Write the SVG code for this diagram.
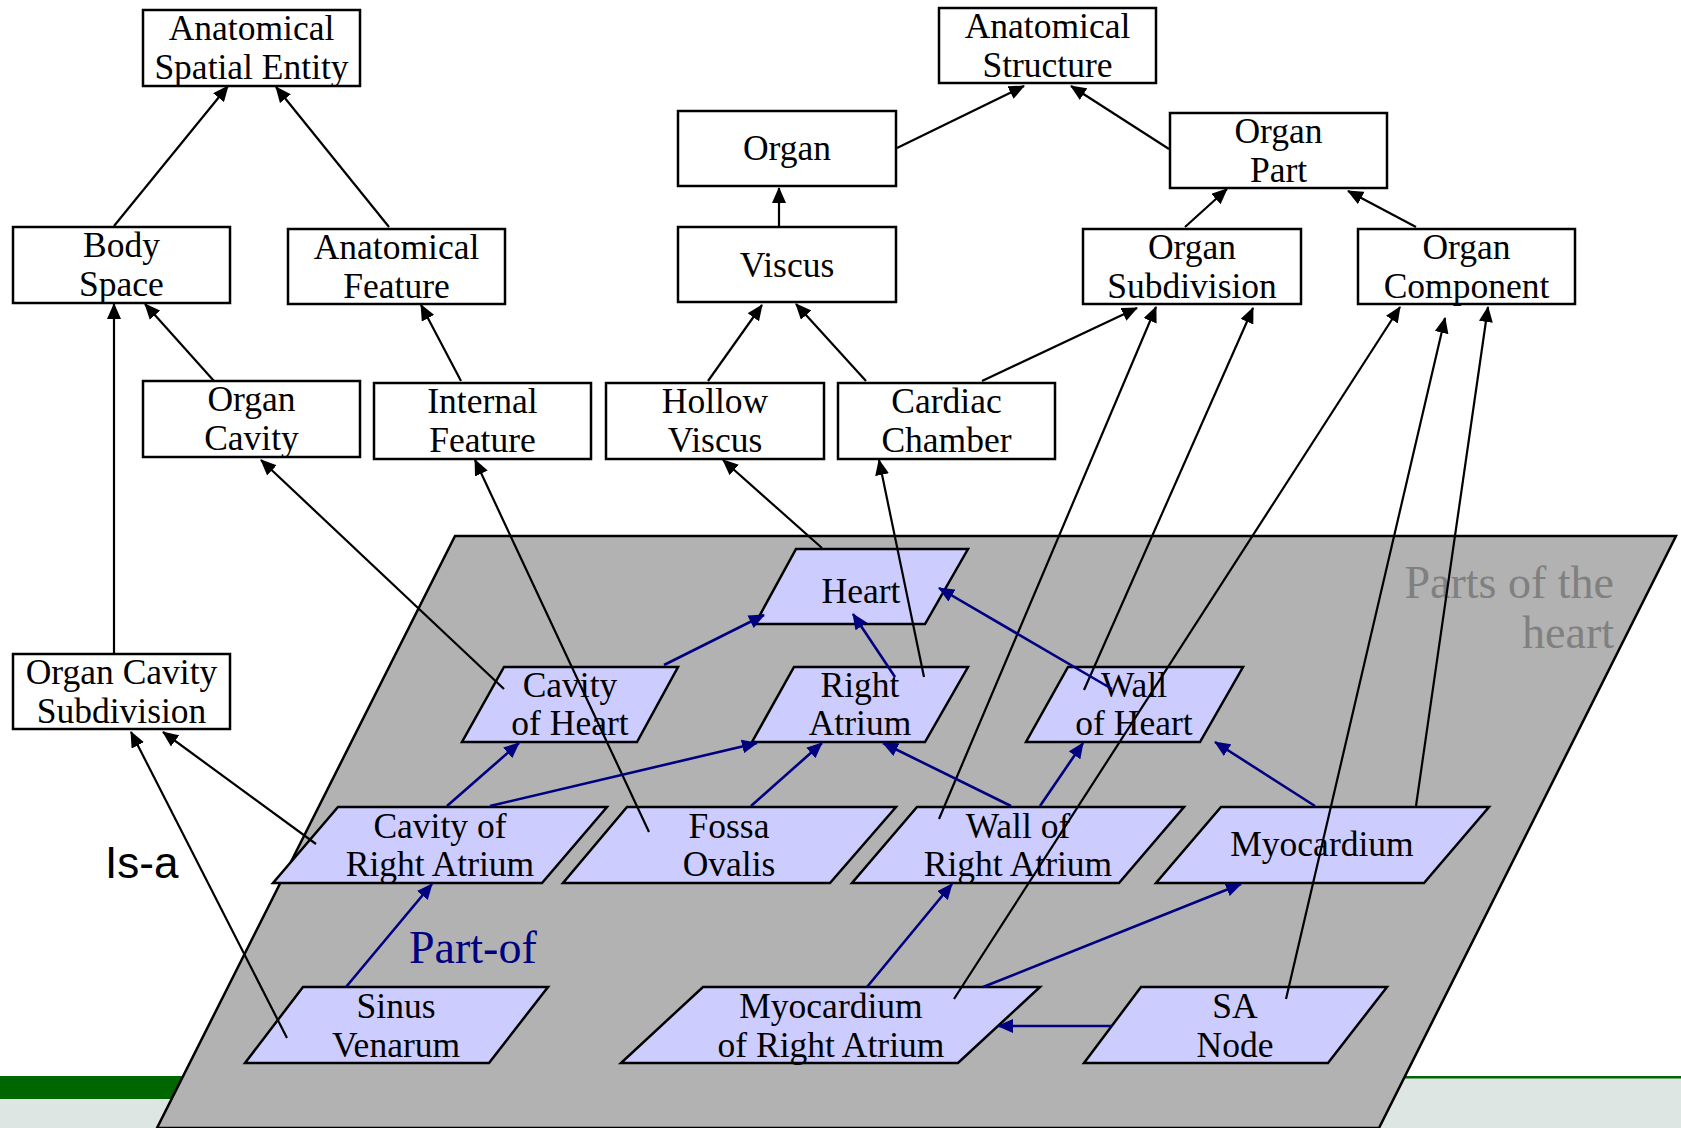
<svg xmlns="http://www.w3.org/2000/svg" width="1681" height="1128" viewBox="0 0 1681 1128">
<defs>
<style>
.box{fill:#fff;stroke:#000;stroke-width:2.5}
.par{fill:#ccccff;stroke:#000;stroke-width:2.5;stroke-linejoin:miter}
.t{font-family:"Liberation Serif","Times New Roman",serif;font-size:35.5px;text-anchor:middle;fill:#000}
.isa{stroke:#000;stroke-width:2.2;fill:none;marker-end:url(#ab)}
.pof{stroke:#000080;stroke-width:2.6;fill:none;marker-end:url(#an)}
</style>
<marker id="ab" viewBox="0 0 16 14" refX="15" refY="7" markerWidth="16" markerHeight="14" markerUnits="userSpaceOnUse" orient="auto"><path d="M0,0 L16,7 L0,14 z" fill="#000"/></marker>
<marker id="an" viewBox="0 0 16 14" refX="15" refY="7" markerWidth="16" markerHeight="14" markerUnits="userSpaceOnUse" orient="auto"><path d="M0,0 L16,7 L0,14 z" fill="#000080"/></marker>
</defs>
<rect x="0" y="0" width="1681" height="1128" fill="#fff"/>
<g id="footer">
<rect x="0" y="1078" width="1681" height="50" fill="#dde6e3"/>
<rect x="0" y="1076" width="800" height="23" fill="#006600"/>
<rect x="800" y="1076" width="881" height="2.5" fill="#006600"/>
</g>
<g id="parts-region">
<polygon points="455,536 1676,536 1379,1128 157,1128" fill="#b2b2b2" stroke="#000" stroke-width="2.5"/>
<text x="1614" y="598" font-family="Liberation Serif, serif" font-size="46" fill="#808080" text-anchor="end">Parts of the</text>
<text x="1614" y="648" font-family="Liberation Serif, serif" font-size="46" fill="#808080" text-anchor="end">heart</text>
</g>
<g id="labels">
<text x="105" y="878" font-family="Liberation Sans, Arial, sans-serif" font-size="44" fill="#000">Is-a</text>
<text x="409" y="963" font-family="Liberation Serif, serif" font-size="46" fill="#000080">Part-of</text>
</g>
<g id="n-ase"><rect class="box" x="143" y="10" width="217" height="76"/><text class="t" x="251.5" y="40">Anatomical</text><text class="t" x="251.5" y="79">Spatial Entity</text></g>
<g id="n-as"><rect class="box" x="939" y="8" width="217" height="75"/><text class="t" x="1047.5" y="38">Anatomical</text><text class="t" x="1047.5" y="77">Structure</text></g>
<g id="n-organ"><rect class="box" x="678" y="111" width="218" height="75"/><text class="t" x="787" y="160">Organ</text></g>
<g id="n-organpart"><rect class="box" x="1170" y="113" width="217" height="75"/><text class="t" x="1278.5" y="143">Organ</text><text class="t" x="1278.5" y="182">Part</text></g>
<g id="n-bodyspace"><rect class="box" x="13" y="227" width="217" height="76"/><text class="t" x="121.5" y="257">Body</text><text class="t" x="121.5" y="296">Space</text></g>
<g id="n-anatfeature"><rect class="box" x="288" y="229" width="217" height="75"/><text class="t" x="396.5" y="259">Anatomical</text><text class="t" x="396.5" y="298">Feature</text></g>
<g id="n-viscus"><rect class="box" x="678" y="227" width="218" height="75"/><text class="t" x="787" y="277">Viscus</text></g>
<g id="n-organsub"><rect class="box" x="1083" y="229" width="218" height="75"/><text class="t" x="1192" y="259">Organ</text><text class="t" x="1192" y="298">Subdivision</text></g>
<g id="n-organcomp"><rect class="box" x="1358" y="229" width="217" height="75"/><text class="t" x="1466.5" y="259">Organ</text><text class="t" x="1466.5" y="298">Component</text></g>
<g id="n-organcavity"><rect class="box" x="143" y="381" width="217" height="76"/><text class="t" x="251.5" y="411">Organ</text><text class="t" x="251.5" y="450">Cavity</text></g>
<g id="n-internalfeature"><rect class="box" x="374" y="383" width="217" height="76"/><text class="t" x="482.5" y="413">Internal</text><text class="t" x="482.5" y="452">Feature</text></g>
<g id="n-hollowviscus"><rect class="box" x="606" y="383" width="218" height="76"/><text class="t" x="715" y="413">Hollow</text><text class="t" x="715" y="452">Viscus</text></g>
<g id="n-cardiacchamber"><rect class="box" x="838" y="383" width="217" height="76"/><text class="t" x="946.5" y="413">Cardiac</text><text class="t" x="946.5" y="452">Chamber</text></g>
<g id="n-ocs"><rect class="box" x="13" y="654" width="217" height="75"/><text class="t" x="121.5" y="684">Organ Cavity</text><text class="t" x="121.5" y="723">Subdivision</text></g>
<g id="n-heart"><polygon class="par" points="796,549 968,549 925,624 755,624"/><text class="t" x="861" y="603">Heart</text></g>
<g id="n-cavityheart"><polygon class="par" points="504,667 678,667 637,742 462,742"/><text class="t" x="570" y="697">Cavity</text><text class="t" x="570" y="735">of Heart</text></g>
<g id="n-rightatrium"><polygon class="par" points="794,667 968,667 925,742 752,742"/><text class="t" x="860" y="697">Right</text><text class="t" x="860" y="735">Atrium</text></g>
<g id="n-wallheart"><polygon class="par" points="1068,667 1243,667 1200,742 1026,742"/><text class="t" x="1134" y="697">Wall</text><text class="t" x="1134" y="735">of Heart</text></g>
<g id="n-cra"><polygon class="par" points="338,807 607,807 542,883 273,883"/><text class="t" x="440" y="838">Cavity of</text><text class="t" x="440" y="876">Right Atrium</text></g>
<g id="n-fossa"><polygon class="par" points="627,807 896,807 830,883 563,883"/><text class="t" x="729" y="838">Fossa</text><text class="t" x="729" y="876">Ovalis</text></g>
<g id="n-wra"><polygon class="par" points="917,807 1184,807 1119,883 852,883"/><text class="t" x="1018" y="838">Wall of</text><text class="t" x="1018" y="876">Right Atrium</text></g>
<g id="n-myocardium"><polygon class="par" points="1221,807 1489,807 1424,883 1156,883"/><text class="t" x="1322" y="856">Myocardium</text></g>
<g id="n-sinus"><polygon class="par" points="303,987 548,987 489,1063 245,1063"/><text class="t" x="396" y="1018">Sinus</text><text class="t" x="396" y="1057">Venarum</text></g>
<g id="n-mra"><polygon class="par" points="703,987 1040,987 958,1063 621,1063"/><text class="t" x="831" y="1018">Myocardium</text><text class="t" x="831" y="1057">of Right Atrium</text></g>
<g id="n-sanode"><polygon class="par" points="1141,987 1387,987 1328,1063 1084,1063"/><text class="t" x="1235" y="1018">SA</text><text class="t" x="1235" y="1057">Node</text></g>
<g id="connectors">
<line class="isa" x1="114" y1="226" x2="228" y2="86"/>
<line class="isa" x1="389" y1="227" x2="276" y2="87"/>
<line class="isa" x1="897" y1="148" x2="1024" y2="86"/>
<line class="isa" x1="1169" y1="149" x2="1071" y2="86"/>
<line class="isa" x1="779" y1="227" x2="779" y2="188"/>
<line class="isa" x1="1185" y1="227" x2="1227" y2="189"/>
<line class="isa" x1="1416" y1="227" x2="1348" y2="191"/>
<line class="isa" x1="214" y1="381" x2="145" y2="304"/>
<line class="isa" x1="114" y1="654" x2="114" y2="304"/>
<line class="isa" x1="461" y1="381" x2="421" y2="305"/>
<line class="isa" x1="708" y1="381" x2="762" y2="305"/>
<line class="isa" x1="866" y1="381" x2="796" y2="304"/>
<line class="isa" x1="982" y1="381" x2="1137" y2="308"/>
<line class="isa" x1="504" y1="689" x2="261" y2="460"/>
<line class="isa" x1="649" y1="832" x2="475" y2="460"/>
<line class="isa" x1="822" y1="548" x2="723" y2="460"/>
<line class="isa" x1="924" y1="677" x2="879" y2="460"/>
<line class="isa" x1="1084" y1="690" x2="1253" y2="308"/>
<line class="isa" x1="939" y1="819" x2="1156" y2="307"/>
<line class="isa" x1="954" y1="999" x2="1400" y2="307"/>
<line class="isa" x1="1286" y1="999" x2="1445" y2="318"/>
<line class="isa" x1="1416" y1="806" x2="1488" y2="307"/>
<line class="isa" x1="316" y1="844" x2="163" y2="732"/>
<line class="isa" x1="287" y1="1038" x2="131" y2="732"/>
<line class="pof" x1="664" y1="665" x2="764" y2="615"/>
<line class="pof" x1="895" y1="677" x2="853" y2="614"/>
<line class="pof" x1="1112" y1="689" x2="939" y2="588"/>
<line class="pof" x1="447" y1="806" x2="519" y2="743"/>
<line class="pof" x1="490" y1="806" x2="757" y2="743"/>
<line class="pof" x1="751" y1="806" x2="822" y2="743"/>
<line class="pof" x1="1011" y1="806" x2="883" y2="743"/>
<line class="pof" x1="1040" y1="806" x2="1083" y2="743"/>
<line class="pof" x1="1315" y1="806" x2="1215" y2="742"/>
<line class="pof" x1="346" y1="987" x2="432" y2="884"/>
<line class="pof" x1="867" y1="987" x2="952" y2="884"/>
<line class="pof" x1="983" y1="987" x2="1241" y2="884"/>
<line class="pof" x1="1112" y1="1026" x2="998" y2="1026"/>
</g>
</svg>
